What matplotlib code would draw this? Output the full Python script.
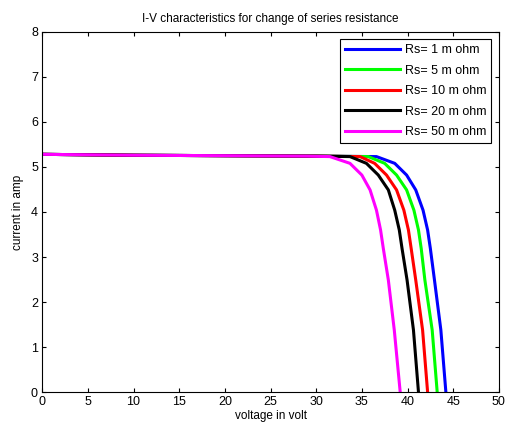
import matplotlib
matplotlib.use('Agg')
import matplotlib.pyplot as plt

plt.rcParams['font.family'] = ['Liberation Sans', 'DejaVu Sans']

# values (voltage in volt, current in amp)
i_pts = [5.28, 5.26, 5.25, 5.24, 5.23, 5.08, 4.82, 4.49, 4.04, 3.6, 3.19, 2.49, 1.38, 0]

v_rs1 = [0, 10, 20, 30, 36.6, 38.6, 39.9, 40.9, 41.7, 42.2, 42.5, 42.95, 43.65, 44.2]
v_rs5 = [0, 10, 20, 30, 35.7, 37.5, 38.8, 39.9, 40.7, 41.2, 41.5, 41.9, 42.7, 43.25]
v_rs10 = [0, 10, 20, 30, 34.8, 36.4, 37.7, 38.8, 39.6, 40.1, 40.4, 40.9, 41.65, 42.2]
v_rs20 = [0, 10, 20, 30, 33.7, 35.5, 36.8, 37.9, 38.6, 39.1, 39.4, 39.95, 40.65, 41.2]
v_rs50 = [0, 10, 20, 29, 31.5, 33.7, 35.0, 35.9, 36.6, 37.05, 37.35, 37.9, 38.55, 39.2]

labels = ['Rs= 1 m ohm', 'Rs= 5 m ohm', 'Rs= 10 m ohm', 'Rs= 20 m ohm', 'Rs= 50 m ohm']
colors = ['#0000ff', '#00ff00', '#ff0000', '#000000', '#ff00ff']

fig = plt.figure(figsize=(5.08, 4.3), dpi=100)
ax = fig.add_axes([0.083, 0.088, 0.899, 0.838])

for v, lab, c in zip([v_rs1, v_rs5, v_rs10, v_rs20, v_rs50], labels, colors):
    ax.plot(v, i_pts, color=c, linewidth=2.2, label=lab, solid_joinstyle='round')

ax.set_xlim(0, 50)
ax.set_ylim(0, 8)
ax.set_xticks(range(0, 51, 5))
ax.set_yticks(range(0, 9))
ax.tick_params(direction='in', top=True, right=True, labelsize=9, length=3, width=0.8, pad=3)
for s in ax.spines.values():
    s.set_linewidth(0.8)

ax.set_title('I-V characteristics for change of series resistance', fontsize=8.5, pad=7)
ax.set_xlabel('voltage in volt', fontsize=8.5, labelpad=1)
ax.set_ylabel('current in amp', fontsize=8.5, labelpad=5)

leg = ax.legend(loc='upper right', fontsize=9, fancybox=False, framealpha=1,
                edgecolor='black', handlelength=4.4, borderaxespad=0.6,
                labelspacing=0.68, handletextpad=0.4)
leg.get_frame().set_linewidth(0.8)

fig.savefig('out.png', dpi=100)
